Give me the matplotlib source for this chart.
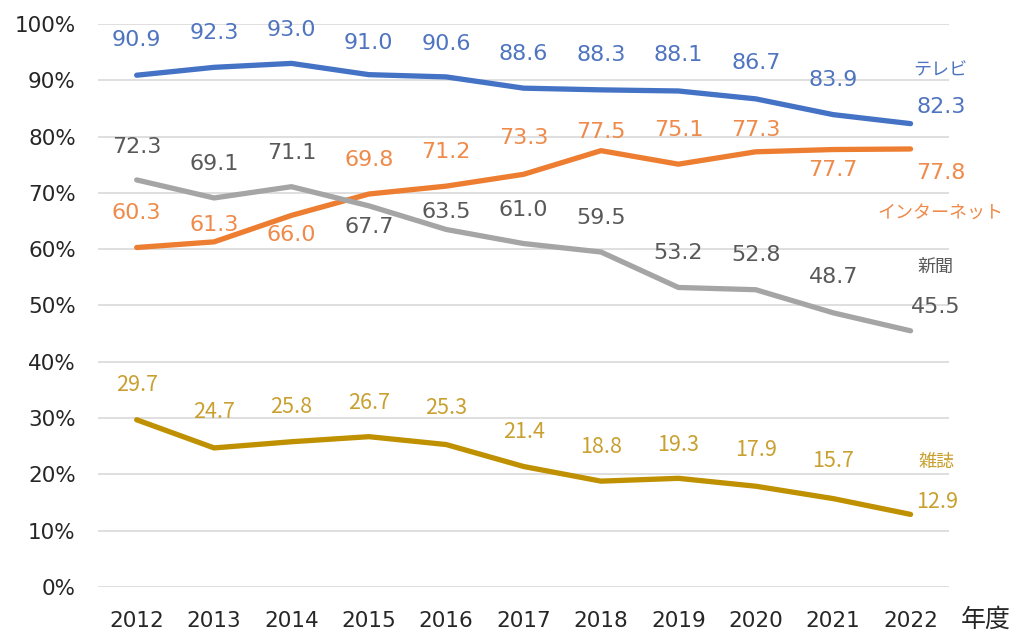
import matplotlib
matplotlib.use("Agg")
import matplotlib.pyplot as plt

plt.rcParams['font.family'] = ['DejaVu Sans', 'Noto Sans CJK JP']

years = [2012, 2013, 2014, 2015, 2016, 2017, 2018, 2019, 2020, 2021, 2022]
tv = [90.9, 92.3, 93.0, 91.0, 90.6, 88.6, 88.3, 88.1, 86.7, 83.9, 82.3]
internet = [60.3, 61.3, 66.0, 69.8, 71.2, 73.3, 77.5, 75.1, 77.3, 77.7, 77.8]
newspaper = [72.3, 69.1, 71.1, 67.7, 63.5, 61.0, 59.5, 53.2, 52.8, 48.7, 45.5]
magazine = [29.7, 24.7, 25.8, 26.7, 25.3, 21.4, 18.8, 19.3, 17.9, 15.7, 12.9]
names = ['テレビ', 'インターネット', '新聞', '雑誌']

# label vertical offsets (in % units) for each data label
tv_dy = [6.2, 6.1, 5.9, 5.6, 5.9, 6.1, 6.2, 6.4, 6.4, 6.1, 3.0]
in_dy = [6.1, 3.0, -3.5, 6.0, 6.0, 6.4, 3.3, 6.0, 3.9, -3.7, -4.3]
np_dy = [5.9, 6.1, 6.0, -3.7, 3.1, 6.0, 6.0, 6.1, 6.2, 6.4, 4.3]
mg_dy = [6.2, 6.4, 6.1, 6.0, 6.5, 6.1, 6.0, 5.9, 6.4, 6.6, 2.2]

fig = plt.figure(figsize=(10.24, 6.43), dpi=100)
ax = fig.add_axes([0.0957, 0.0871, 0.8313, 0.8756])

series = [
    (tv, tv_dy, '#4472C4', '#4F74C0', names[0], 91.8, 0.39, 'DejaVu Sans', 16),
    (internet, in_dy, '#ED7D31', '#EE8A4A', names[1], 66.3, 0.39, 'DejaVu Sans', 16),
    (newspaper, np_dy, '#A5A5A5', '#595959', names[2], 56.8, 0.32, 'DejaVu Sans', 16),
    (magazine, mg_dy, '#BF9000', '#C9A030', names[3], 22.2, 0.34, 'Noto Sans CJK JP', 15.5),
]

for vals, dys, lc, tc, name, ny, lastx, fam, fs in series:
    ax.plot(years, vals, color=lc, lw=3.8, solid_capstyle='round', zorder=3)
    for i, (x, v, d) in enumerate(zip(years, vals, dys)):
        xo = lastx if i == len(years) - 1 else 0.0
        ax.text(x + xo, v + d, f"{v:.1f}", color=tc, fontsize=fs,
                family=[fam, 'DejaVu Sans'], ha='center', va='center', zorder=4)
    ax.text(years[-1] + lastx, ny, name, family=['Noto Sans CJK JP'],
            color=tc, fontsize=13, ha='center', va='center', zorder=4)

ax.set_xlim(2011.5, 2022.5)
ax.set_ylim(0, 100)
ax.set_yticks(range(0, 101, 10))
ax.set_yticklabels([f"{t}%" for t in range(0, 101, 10)])
ax.set_xticks(years)
ax.set_xticklabels([str(y) for y in years])
ax.tick_params(axis='both', length=0, labelsize=15.5, colors='#262626')
ax.tick_params(axis='x', pad=17)
ax.tick_params(axis='y', pad=16)
ax.grid(axis='y', color='#D9D9D9', lw=1.2)
ax.set_axisbelow(True)
for s in ax.spines.values():
    s.set_visible(False)

ax.text(1.0425, -0.0585, '年度', transform=ax.transAxes, fontsize=18,
        family=['Noto Sans CJK JP'], color='#262626', ha='center', va='center')

fig.savefig('out.png', dpi=100, facecolor='white')
